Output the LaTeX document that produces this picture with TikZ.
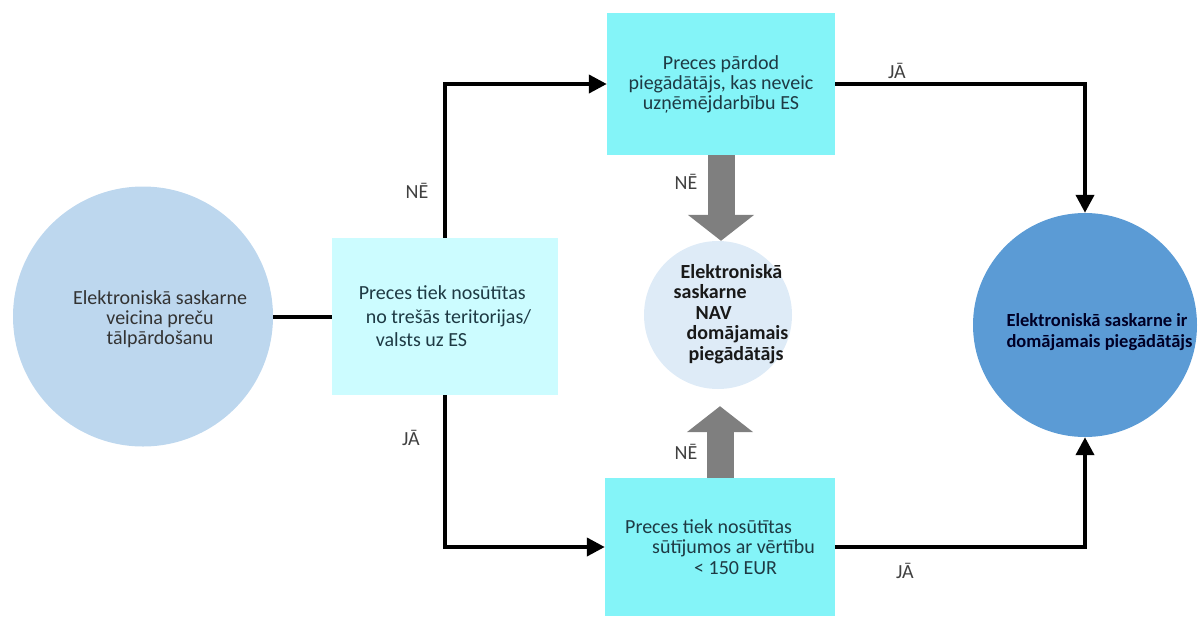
\documentclass[tikz,border=0pt]{standalone}
\usepackage{fontspec}
\setmainfont{Carlito}
\usetikzlibrary{arrows.meta}

\definecolor{startfill}{HTML}{BDD7EE}
\definecolor{palebox}{HTML}{CCFCFF}
\definecolor{cyanbox}{HTML}{84F4F8}
\definecolor{notfill}{HTML}{DEEBF7}
\definecolor{yesfill}{HTML}{5B9BD5}
\definecolor{blockgray}{HTML}{7F7F7F}
\definecolor{boxtext}{HTML}{1E3A44}
\definecolor{lbltext}{HTML}{404040}

\begin{document}
\begin{tikzpicture}[x=1pt,y=-1pt,
  txt/.style={font=\fontsize{20}{20}\selectfont},
  boxnode/.style={rectangle, draw=none, inner sep=0pt, text=boxtext, align=left},
  disc/.style={circle, draw=none, inner sep=0pt},
  flow/.style={line width=4pt, -{Triangle[length=18pt,width=18pt]}},
  link/.style={line width=4pt},
  bigarrow/.style={draw=blockgray, line width=27pt, -{Triangle[length=26pt,width=65pt]}},
  lbl/.style={txt, text=lbltext, inner sep=0pt}]

\useasboundingbox (0,0) rectangle (1200,619);

% circles
\node[disc, fill=startfill, minimum size=260pt] (start) at (143,316.5) {};
\node[txt, text=black!80, align=center] (starttxt) at (160,319)
  {Elektroniskā saskarne\\veicina preču\\tālpārdošanu};

\node[disc, fill=notfill, minimum size=148pt] (mid) at (718,315) {};
\node[txt, font=\fontsize{20}{20.5}\selectfont\bfseries, text=black!90, align=left] (midtxt) at (731,314)
  {\hspace*{7pt}Elektroniskā\\saskarne\\\hspace*{22pt}NAV\\\hspace*{13pt}domājamais\\\hspace*{15pt}piegādātājs};

\node[disc, fill=yesfill, minimum size=224pt] (yes) at (1085,325) {};
\node[txt, font=\fontsize{18.5}{21}\selectfont\bfseries, text=black!85!blue, align=left, anchor=west] (yestxt) at (1003,332)
  {Elektroniskā saskarne ir\\domājamais piegādātājs};

% decision boxes
\node[boxnode, fill=palebox, minimum width=226pt, minimum height=157pt,
      font=\fontsize{20}{23.5}\selectfont] (origin) at (445,316.5)
  {Preces tiek nosūtītas\\\hspace*{7pt}no trešās teritorijas/\\\hspace*{17pt}valsts uz ES};

\node[boxnode, fill=cyanbox, minimum width=228pt, minimum height=142pt, align=center,
      font=\fontsize{20}{20}\selectfont] (seller) at (721,84)
  {Preces pārdod\\piegādātājs, kas neveic\\uzņēmējdarbību ES};

\node[boxnode, fill=cyanbox, minimum width=230pt, minimum height=138pt,
      font=\fontsize{20}{20.5}\selectfont] (value) at (720,547)
  {Preces tiek nosūtītas\\\hspace*{27pt}sūtījumos ar vērtību\\\hspace*{69pt}< 150 EUR};

% connectors
\draw[link] (start.east) -- (origin.west);
\draw[flow] (origin.north) |- (seller.west);
\draw[flow] (origin.south) |- (value.west);
\draw[flow] (seller.east) -| (yes.north);
\draw[flow] (value.east) -| (yes.south);
\draw[bigarrow] (seller.south) -- (seller.south |- mid.north);
\draw[bigarrow, shorten >=17pt] (value.north) -- (value.north |- mid.south);

% labels
\node[lbl] (l1) at (417,191) {NĒ};
\node[lbl] (l2) at (411,438) {JĀ};
\node[lbl] (l3) at (686,182) {NĒ};
\node[lbl] (l4) at (686,452) {NĒ};
\node[lbl] (l5) at (897,71) {JĀ};
\node[lbl] (l6) at (905,571) {JĀ};
\end{tikzpicture}
\end{document}
